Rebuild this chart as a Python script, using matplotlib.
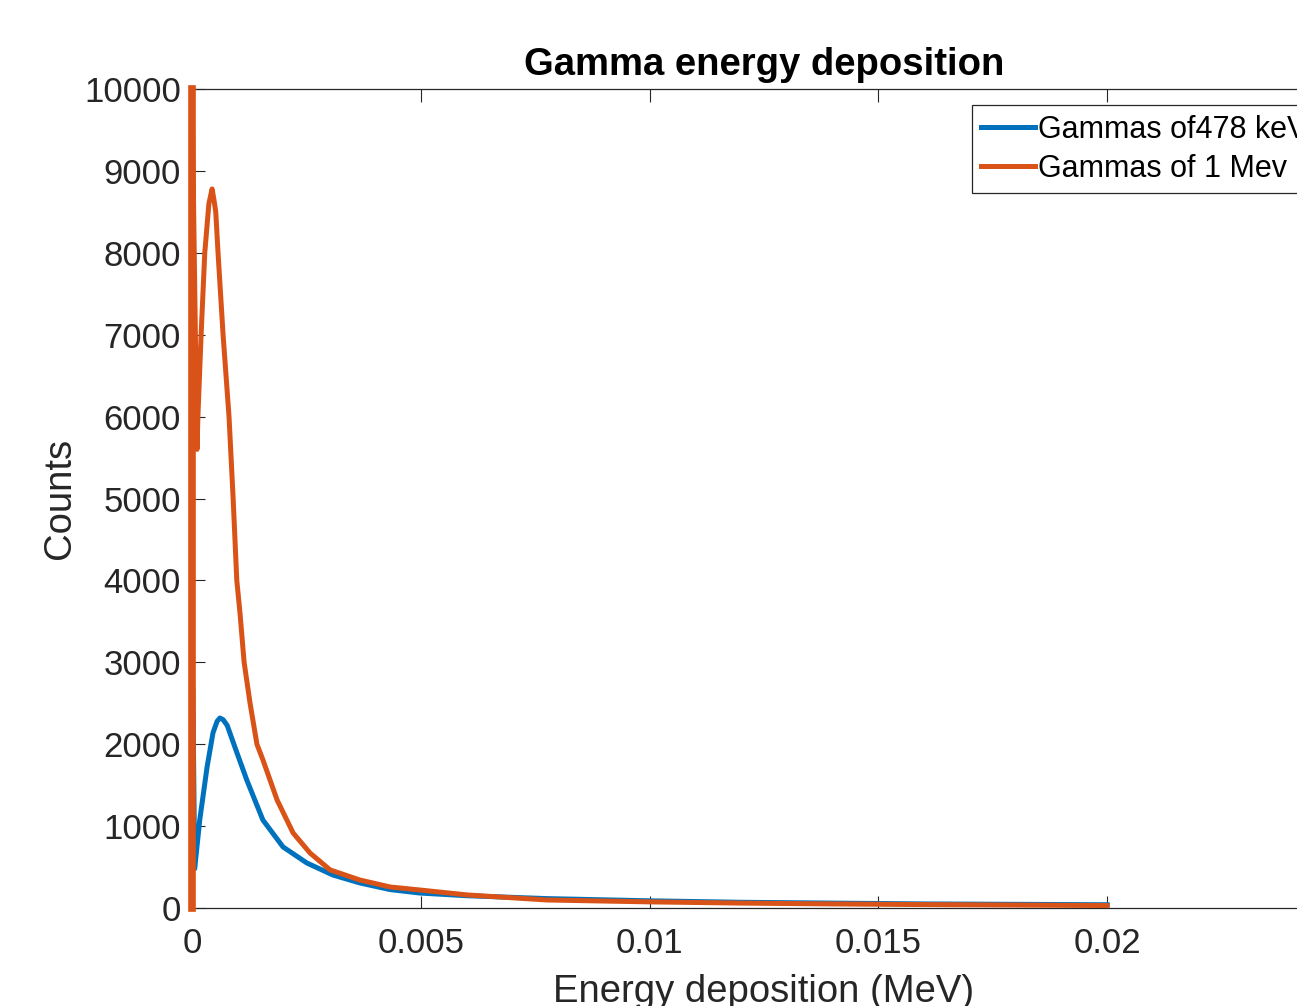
import matplotlib
matplotlib.use('Agg')
from matplotlib import pyplot as plt
from matplotlib.ticker import FuncFormatter

plt.rcParams['font.family'] = ['Liberation Sans', 'DejaVu Sans']

# energy deposition (MeV) and counts
e_1mev = [0, 0, 0.00011, 0.00013, 0.0002, 0.00028, 0.00037, 0.00044, 0.00048,
          0.00052, 0.00057, 0.00068, 0.00081, 0.0009, 0.00098, 0.00105, 0.00114,
          0.00127, 0.00142, 0.00155, 0.00186, 0.00221, 0.00258, 0.00302, 0.00367,
          0.00433, 0.00498, 0.00601, 0.00776, 0.01, 0.012, 0.014, 0.016, 0.018, 0.02]
c_1mev = [0, 10000, 5600, 6000, 7000, 8000, 8600, 8780, 8650,
          8500, 8000, 7000, 6000, 5000, 4000, 3600, 3000,
          2500, 2000, 1810, 1320, 917, 672, 465, 342,
          257, 220, 160, 98, 75, 60, 50, 42, 36, 30]

e_478 = [0.00002, 0.00006, 0.00017, 0.00033, 0.00046, 0.00055, 0.00061, 0.00068,
         0.00077, 0.00098, 0.0012, 0.00133, 0.00155, 0.00199, 0.00251, 0.00308,
         0.00367, 0.00433, 0.00498, 0.00601, 0.00776, 0.01, 0.012, 0.014, 0.016,
         0.018, 0.02]
c_478 = [2660, 480, 1075, 1720, 2140, 2280, 2320, 2300,
         2230, 1900, 1560, 1380, 1075, 746, 550, 403,
         306, 225, 183, 150, 115, 88, 70, 60, 50,
         45, 40]

labels = ['Gammas of478 keV', 'Gammas of 1 Mev']

blue = '#0072BD'
orange = '#D95319'
axcol = '#262626'

fig = plt.figure(figsize=(12.97, 10.06), dpi=100)
ax = fig.add_axes([0.148, 0.0974, 0.882, 0.8141])

ax.plot(e_478, c_478, color=blue, lw=3.6, label=labels[0], clip_on=False, zorder=3)
ax.plot(e_1mev, c_1mev, color=orange, lw=3.6, label=labels[1], clip_on=False, zorder=3)
# the first bin is drawn a bit heavier in the original
ax.plot([0, 0], [0, 10000], color=orange, lw=5.5, clip_on=False, zorder=3)

ax.set_xlim(0, 0.025)
ax.set_ylim(0, 10000)
ax.set_xticks([0, 0.005, 0.01, 0.015, 0.02, 0.025])
ax.set_yticks(range(0, 10001, 1000))
ax.xaxis.set_major_formatter(FuncFormatter(lambda v, p: '' if v > 0.021 else '%g' % v))

ax.tick_params(direction='in', length=9, width=0.8, color=axcol, labelcolor=axcol,
               labelsize=25, top=True, right=True)
ax.tick_params(axis='x', pad=14)
ax.tick_params(axis='y', pad=8)
for s in ax.spines.values():
    s.set_color(axcol)
    s.set_linewidth(0.9)

ax.set_title('Gamma energy deposition', fontsize=27.5, fontweight='bold', pad=10)
ax.set_xlabel('Energy deposition (MeV)', fontsize=27.5, color=axcol, labelpad=10)
ax.set_ylabel('Counts', fontsize=27.5, color=axcol, labelpad=4)

leg = ax.legend(loc='upper left', bbox_to_anchor=(0.682, 0.98), fontsize=22,
                frameon=True, fancybox=False, framealpha=1, edgecolor=axcol,
                handlelength=1.75, handletextpad=0.12, borderpad=0.3,
                labelspacing=0.3, borderaxespad=0)
leg.get_frame().set_linewidth(0.9)
leg.set_zorder(5)

fig.savefig('out.png', dpi=100)
